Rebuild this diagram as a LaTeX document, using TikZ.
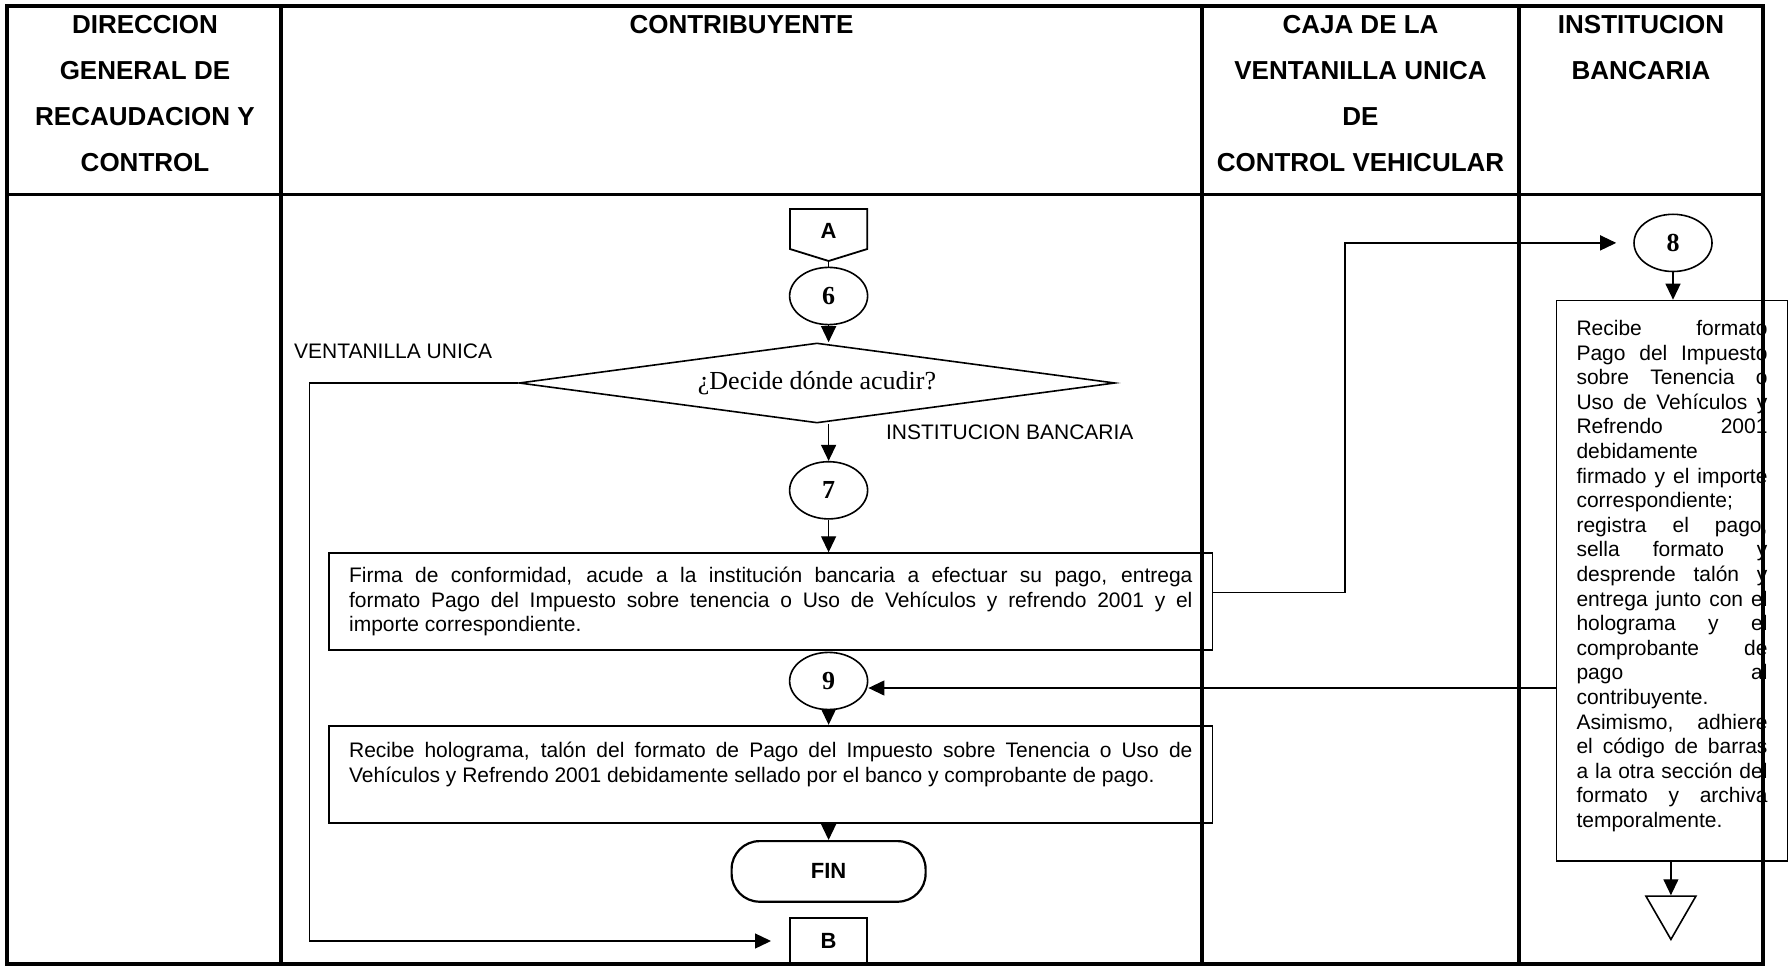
\documentclass[tikz,border=0pt]{standalone}
\usepackage{fontspec}
\setmainfont{Liberation Sans}
\newfontfamily\timesfont{Liberation Serif}
\usetikzlibrary{shapes.geometric,arrows.meta}
\hbadness=10000
\hfuzz=30pt

\begin{document}
\begin{tikzpicture}[x=0.5pt,y=-0.5pt,
    frame/.style={line width=1.75pt},
    head/.style={font=\fontsize{13}{23}\selectfont\bfseries, align=center, inner sep=0pt},
    lbl/.style={font=\fontsize{10.5}{12.3}\selectfont, inner sep=0pt},
    num/.style={draw, ellipse, line width=0.8pt, minimum width=39pt, minimum height=28.6pt, inner sep=0pt, font=\timesfont\fontsize{13}{15}\selectfont\bfseries},
    proc/.style={draw, line width=0.9pt, align=justify, inner xsep=10pt, font=\fontsize{10.5}{12.3}\selectfont},
    conn/.style={font=\fontsize{11}{13}\selectfont\bfseries},
    arr/.style={line width=0.65pt, -{Triangle[length=8pt,width=7.5pt]}},
    link/.style={line width=0.65pt}]
\useasboundingbox (0,0) rectangle (1792,967);

% encabezados
\node[head] (h1) at (145,93.5) {DIRECCION\\GENERAL DE\\RECAUDACION Y\\CONTROL};
\node[head] (h2) at (741.5,25) {CONTRIBUYENTE};
\node[head] (h3) at (1360.5,93.5) {CAJA DE LA\\VENTANILLA UNICA\\DE\\CONTROL VEHICULAR};
\node[head] (h4) at (1641,48) {INSTITUCION\\BANCARIA};

% conector A
\node[conn] (pA) at (828.6,231) {A};
\draw[line width=0.9pt] (pA.center) +(-38.7,-22) -- +(38.7,-22) -- +(38.7,18) -- +(0,30) -- +(-38.7,18) -- cycle;

\node[num] (c6) at (828.6,296) {6};
\node[draw, diamond, aspect=7.5, minimum width=298pt, minimum height=40pt, inner sep=0pt, line width=0.8pt, font=\timesfont\fontsize{13}{15}\selectfont] (dec) at (817,383) {¿Decide dónde acudir?};
\node[lbl, anchor=west] (lvu) at (293.7,351) {VENTANILLA UNICA};
\node[lbl, anchor=west] (lib) at (885.7,432) {INSTITUCION BANCARIA};
\node[num] (c7) at (828.6,490.3) {7};

\node[proc, text width=421.7pt, minimum height=48.5pt] (box1) at (770.8,601.7) {Firma de conformidad, acude a la institución bancaria a efectuar su pago, entrega\linebreak formato Pago del Impuesto sobre tenencia o Uso de Vehículos y refrendo 2001 y el\linebreak importe correspondiente.};
\node[num] (c9) at (828.6,681) {9};
\node[proc, text width=421.7pt, minimum height=48.6pt] (box3) at (770.8,774.3) {Recibe holograma, talón del formato de Pago del Impuesto sobre Tenencia o Uso de\linebreak Vehículos y Refrendo 2001 debidamente sellado por el banco y comprobante de pago.\par\mbox{}};
\node[draw, rounded corners=14pt, minimum width=97pt, minimum height=30.3pt, line width=1.1pt, conn] (fin) at (828.6,871.4) {FIN};
\node[draw, line width=0.9pt, minimum width=38.7pt, minimum height=23.2pt, conn] (bx) at (828.6,941) {B};

% institucion bancaria
\node[num] (c8) at (1673,242.9) {8};
\node[proc, text width=95.5pt, minimum height=280pt] (box2) at (1672,580.6) {Recibe formato\linebreak
Pago del Impuesto\linebreak
sobre Tenencia o\linebreak
Uso de Vehículos y\linebreak
Refrendo 2001\linebreak
debidamente\linebreak
firmado y el importe\linebreak
correspondiente;\linebreak
registra el pago,\linebreak
sella formato y\linebreak
desprende talón y\linebreak
entrega junto con el\linebreak
holograma y el\linebreak
comprobante de\linebreak
pago al\linebreak
contribuyente.\linebreak
Asimismo, adhiere\linebreak
el código de barras\linebreak
a la otra sección del\linebreak
formato y archiva\linebreak
temporalmente.\par\vspace{4.5pt}\hrule height 0pt width 0pt};
\node[draw, regular polygon, regular polygon sides=3, shape border rotate=180, minimum size=28.9pt, inner sep=0pt, line width=0.8pt] (tri) at (1670.9,910.5) {};

% flechas
\draw[link] ([yshift=-15pt]pA.center) -- (c6.north);
\draw[arr] (c6.south) -- (c6.south |- dec.north);
\draw[arr] (c7.north |- dec.south) -- (c7.north);
\draw[arr] (c7.south) -- (c7.south |- box1.north);
\draw[arr] (c9.south) -- (c9.south |- box3.north);
\draw[arr] (fin.north |- box3.south) -- (fin.north);
\coordinate (kvu) at (309.7,0);
\draw[arr, shorten >=9pt] (dec.west) -| (kvu |- bx.west) -- (bx.west);
\coordinate (kb8) at (1345,0);
\draw[arr, shorten >=8.5pt] ([yshift=4.5pt]box1.east) -| (kb8 |- c8.west) -- (c8.west);
\draw[arr] (c8.south) -- (c8.south |- box2.north);
\draw[arr] (tri.north |- box2.south) -- (tri.north);
\coordinate (l9) at ([yshift=-3.5pt]c9.east);
\draw[arr] (box2.west |- l9) -- (c9.east |- l9);

% marco
\draw[frame] (7,6) rectangle (1763,964);
\draw[frame] (7,194.3) -- (1763,194.3);
\foreach \cx in {281,1202,1519}
  \draw[frame] (\cx,6) -- (\cx,964);
\end{tikzpicture}
\end{document}
